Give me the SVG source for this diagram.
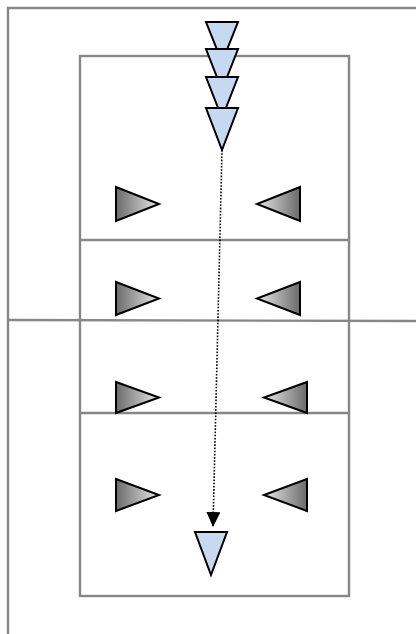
<svg xmlns="http://www.w3.org/2000/svg" width="416" height="634" viewBox="0 0 416 634">
<style>
.frame{fill:none;stroke:#878787;stroke-width:2.4}
.blue{fill:#c6d9f1;stroke:#000;stroke-width:2;stroke-linejoin:miter}
.gr{stroke:#000;stroke-width:2}
.rg{fill:url(#gR)}
.lg{fill:url(#gL)}
.conn{fill:none;stroke:#000;stroke-width:1.6;stroke-dasharray:1.6 1.6}
</style>
<defs>
<linearGradient id="gR" x1="0" y1="0" x2="1" y2="0">
<stop offset="0" stop-color="#6a6a6a"/><stop offset="1" stop-color="#e8e8e8"/>
</linearGradient>
<linearGradient id="gL" x1="1" y1="0" x2="0" y2="0">
<stop offset="0" stop-color="#6a6a6a"/><stop offset="1" stop-color="#e8e8e8"/>
</linearGradient>
<marker id="arr" markerWidth="15" markerHeight="14" refX="15" refY="7" orient="auto" markerUnits="userSpaceOnUse" viewBox="0 0 15 14">
<path d="M0,0 L15,7 L0,14 Z" fill="#000"/>
</marker>
</defs>
<g id="frame">
<path class="frame" d="M8,634 L8,8 L416,8"/>
<path class="frame" d="M8,320 L416,321"/>
</g>
<g id="box">
<rect class="frame" x="80" y="56" width="269" height="540"/>
<line class="frame" x1="80" y1="240" x2="349" y2="240"/>
<line class="frame" x1="80" y1="413" x2="349" y2="413"/>
</g>
<g id="connectors">
<path class="conn" d="M222,150 L213,527" marker-end="url(#arr)"/>
</g>
<g id="stack">
<polygon class="blue" points="206,22 238,22 222,62"/>
<polygon class="blue" points="206,49 238,49 222,90"/>
<polygon class="blue" points="206,77 238,77 222,118"/>
<polygon class="blue" points="206,108 238,108 222,150"/>
</g>
<g id="target">
<polygon class="blue" points="195,532 227,532 211,575"/>
</g>
<g id="row1">
<polygon class="gr rg" points="116,187 159,204 116,221"/>
<polygon class="gr lg" points="300,187 257,204 300,221"/>
</g>
<g id="row2">
<polygon class="gr rg" points="116,282 159,298.5 116,315"/>
<polygon class="gr lg" points="300,282 257,298.5 300,315"/>
</g>
<g id="row3">
<polygon class="gr rg" points="116,382 159,397.5 116,413"/>
<polygon class="gr lg" points="307,382 264,397.5 307,413"/>
</g>
<g id="row4">
<polygon class="gr rg" points="116,479 159,495 116,511"/>
<polygon class="gr lg" points="307,479 264,495 307,511"/>
</g>
</svg>
